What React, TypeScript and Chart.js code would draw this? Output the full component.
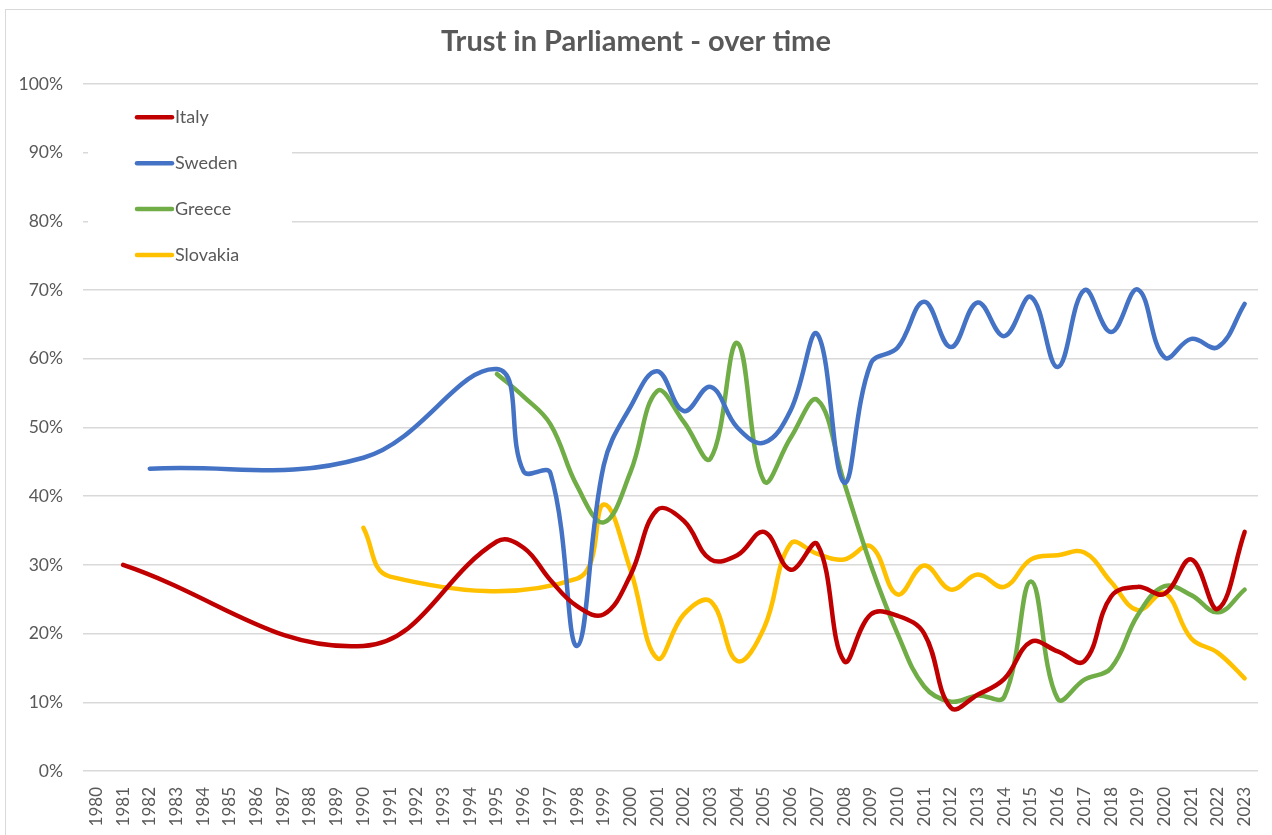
import React, { useEffect, useRef } from "react";
import { Chart, registerables } from "chart.js";

Chart.register(...registerables);

const years: string[] = [
  "1980", "1981", "1982", "1983", "1984", "1985", "1986", "1987", "1988", "1989",
  "1990", "1991", "1992", "1993", "1994", "1995", "1996", "1997", "1998", "1999",
  "2000", "2001", "2002", "2003", "2004", "2005", "2006", "2007", "2008", "2009",
  "2010", "2011", "2012", "2013", "2014", "2015", "2016", "2017", "2018", "2019",
  "2020", "2021", "2022", "2023",
];

const italy: (number | null)[] = [
  null, 30.0, null, null, null, null, null, null, null, null,
  18.2, null, null, null, null, 33.4, 32.5, 27.8, 24.0, 22.8,
  28.5, 38.0, 36.4, 30.8, 31.4, 34.8, 29.3, 33.0, 16.0, 22.8,
  22.6, 20.0, 9.2, 11.1, 13.4, 18.8, 17.4, 16.0, 25.4, 26.8,
  25.8, 30.8, 23.6, 34.8,
];

const sweden: (number | null)[] = [
  null, null, 44.0, null, null, null, null, null, null, null,
  45.6, null, null, null, null, 58.5, 43.6, 43.4, 18.2, 44.5,
  53.0, 58.2, 52.4, 55.9, 50.0, 47.8, 52.5, 63.6, 42.0, 59.3,
  61.6, 68.3, 61.7, 68.2, 63.3, 69.0, 58.8, 70.0, 63.9, 70.1,
  60.2, 62.9, 61.7, 68.0,
];

const greece: (number | null)[] = [
  null, null, null, null, null, null, null, null, null, null,
  null, null, null, null, null, 57.8, 54.5, 50.5, 41.5, 36.2,
  43.5, 55.3, 50.8, 45.5, 62.3, 42.2, 48.5, 54.0, 42.0, 30.0,
  20.0, 12.3, 10.1, 11.0, 10.8, 27.6, 10.5, 13.3, 15.0, 22.7,
  26.9, 25.6, 23.1, 26.4,
];

const slovakia: (number | null)[] = [
  null, null, null, null, null, null, null, null, null, null,
  35.4, 28.3, null, null, null, null, null, null, 28.0, 38.8,
  29.3, 16.4, 22.8, 24.7, 16.0, 20.8, 33.1, 31.6, 30.8, 32.7,
  25.7, 29.9, 26.4, 28.6, 26.8, 30.8, 31.4, 31.8, 27.5, 23.4,
  25.9, 19.3, 17.2, 13.5,
];

const seriesNames = ["Italy", "Sweden", "Greece", "Slovakia"];
const seriesColors = ["#C00000", "#4472C4", "#70AD47", "#FFC000"];
const seriesValues = [italy, sweden, greece, slovakia];

const titleText = "Trust in Parliament - over time";
const textColor = "#595959";
const gridColor = "#d9d9d9";
const fontFamily = "Lato, 'Open Sans', 'Liberation Sans', sans-serif";

const insideLegend = {
  id: "insideLegend",
  beforeDatasetsDraw(chart: any) {
    const ctx = chart.ctx;
    ctx.save();
    ctx.fillStyle = "#ffffff";
    ctx.fillRect(88, 92, 204, 186);
    ctx.restore();
  },
  afterDraw(chart: any) {
    const ctx = chart.ctx;
    ctx.save();
    const startY = 117.3;
    const gap = 45.9;
    chart.data.datasets.forEach((ds: any, i: number) => {
      const y = startY + i * gap;
      ctx.beginPath();
      ctx.strokeStyle = ds.borderColor;
      ctx.lineWidth = 4.5;
      ctx.lineCap = "round";
      ctx.moveTo(137, y);
      ctx.lineTo(172, y);
      ctx.stroke();
      ctx.fillStyle = textColor;
      ctx.font = `18px ${fontFamily}`;
      ctx.textBaseline = "middle";
      ctx.textAlign = "left";
      ctx.fillText(ds.label, 175, y);
    });
    ctx.restore();
  },
};

export default function App() {
  const canvasRef = useRef<HTMLCanvasElement | null>(null);

  useEffect(() => {
    if (!canvasRef.current) return;
    const chart = new Chart(canvasRef.current, {
      type: "line",
      data: {
        labels: years,
        datasets: seriesNames.map((name, i) => ({
          label: name,
          data: seriesValues[i],
          borderColor: seriesColors[i],
          backgroundColor: seriesColors[i],
          borderWidth: 4.5,
          pointRadius: 0,
          pointHoverRadius: 0,
          tension: 0.4,
          spanGaps: true,
          fill: false,
          borderCapStyle: "round" as const,
          borderJoinStyle: "round" as const,
        })),
      },
      options: {
        animation: false,
        responsive: true,
        maintainAspectRatio: false,
        events: [],
        layout: { padding: { left: 0, right: 0, top: 0, bottom: 0 } },
        plugins: {
          legend: { display: false },
          tooltip: { enabled: false },
          title: {
            display: true,
            text: titleText,
            color: textColor,
            font: { family: fontFamily, size: 29, weight: "bold" },
            padding: { top: 24, bottom: 25.2 },
          },
        },
        scales: {
          x: {
            type: "category",
            offset: true,
            grid: { display: false, drawTicks: false },
            border: { display: false },
            ticks: {
              autoSkip: false,
              maxRotation: 90,
              minRotation: 90,
              padding: 16,
              color: textColor,
              font: { family: fontFamily, size: 17 },
            },
            afterFit: (scale: any) => {
              scale.height = 64;
              scale.paddingLeft = 0;
              scale.paddingRight = 14;
            },
          },
          y: {
            min: 0,
            max: 100,
            grid: { color: gridColor, lineWidth: 1.5, drawTicks: false },
            border: { display: false },
            ticks: {
              stepSize: 10,
              padding: 20,
              color: textColor,
              font: { family: fontFamily, size: 17.5 },
              callback: (v: any) => `${v}%`,
            },
            afterFit: (scale: any) => {
              scale.width = 83;
            },
          },
        },
      },
      plugins: [insideLegend],
    });
    return () => chart.destroy();
  }, []);

  return (
    <div style={{ position: "fixed", left: 0, top: 0, width: 1272, height: 835, overflow: "hidden", background: "#ffffff" }}>
      <div
        style={{
          position: "absolute",
          left: 5,
          top: 9,
          width: 1290,
          height: 850,
          border: "1px solid #d9d9d9",
          boxSizing: "border-box",
        }}
      />
      <div style={{ position: "absolute", left: 0, top: 0, width: 1272, height: 835 }}>
        <canvas ref={canvasRef} />
      </div>
    </div>
  );
}
